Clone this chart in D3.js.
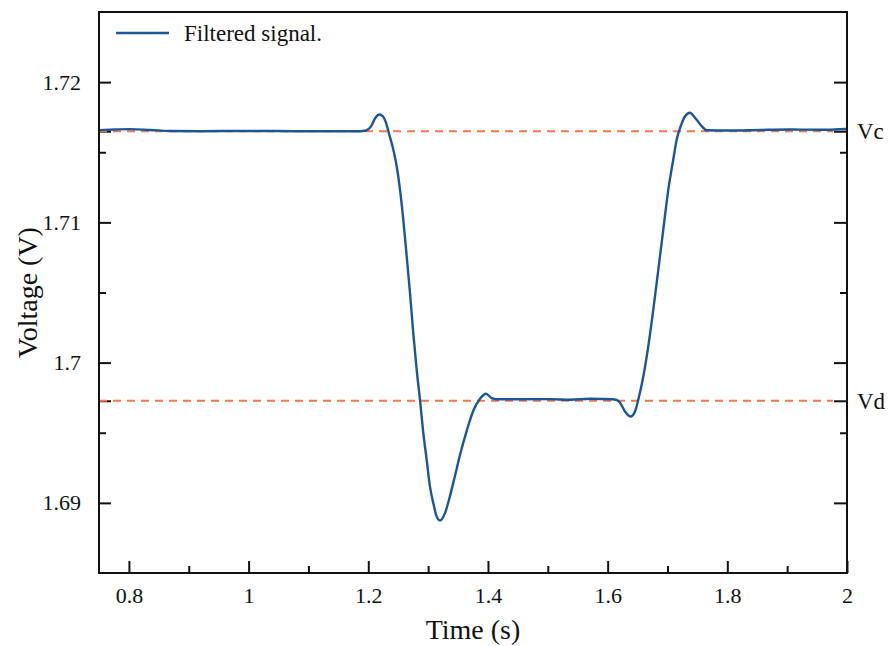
<!DOCTYPE html>
<html>
<head>
<meta charset="utf-8">
<script src="https://cdn.jsdelivr.net/npm/d3@7"></script>
<style>
  body { margin: 0; background: #fff; }
  text { font-family: "Liberation Serif", "Times New Roman", serif; fill: #111; }
</style>
</head>
<body>
<script>
// filtered signal
var timeValues = [0.75, 0.7767, 0.8018, 0.8352, 0.8687, 0.9188, 1.0023, 1.0859, 1.1862, 1.1962,
  1.2046, 1.2113, 1.2184, 1.2246, 1.2296, 1.2335, 1.2418, 1.2475, 1.2530, 1.2585,
  1.2642, 1.2697, 1.2752, 1.2809, 1.2864, 1.2920, 1.2976, 1.3031, 1.3087, 1.3143,
  1.3199, 1.3282, 1.3366, 1.3449, 1.3533, 1.3645, 1.3755, 1.3867, 1.3967, 1.4062,
  1.4151, 1.4535, 1.5037, 1.5371, 1.5705, 1.6073, 1.6157, 1.6207, 1.6290, 1.6385,
  1.6457, 1.6512, 1.6596, 1.6679, 1.6763, 1.6847, 1.6930, 1.7014, 1.7097, 1.7154,
  1.7221, 1.7293, 1.7376, 1.7460, 1.7572, 1.7655, 1.8044, 1.8546, 1.9047, 1.9548, 2.0];
var voltageValues = [1.71658, 1.71662, 1.71665, 1.71659, 1.71652, 1.71650, 1.71652, 1.71650, 1.71650, 1.71655,
  1.71684, 1.71741, 1.71769, 1.71755, 1.71712, 1.71650, 1.71520, 1.71400, 1.71234, 1.71020,
  1.70758, 1.70497, 1.70211, 1.69949, 1.69735, 1.69498, 1.69307, 1.69116, 1.68998, 1.68902,
  1.68874, 1.68927, 1.69050, 1.69193, 1.69343, 1.69514, 1.69657, 1.69742, 1.69778, 1.69747,
  1.69739, 1.69739, 1.69740, 1.69735, 1.69742, 1.69739, 1.69732, 1.69714, 1.69652, 1.69616,
  1.69652, 1.69735, 1.69901, 1.70116, 1.70378, 1.70663, 1.70949, 1.71234, 1.71448, 1.71591,
  1.71686, 1.71757, 1.71782, 1.71746, 1.71686, 1.71657, 1.71655, 1.71659, 1.71662, 1.71660, 1.71666];

// reference levels
var refNames = ["Vc", "Vd"];
var refValues = [1.71650, 1.69728];

// ticks
var xMajor = [0.8, 1, 1.2, 1.4, 1.6, 1.8, 2];
var xMinor = [0.9, 1.1, 1.3, 1.5, 1.7, 1.9];
var yMajor = [1.69, 1.70, 1.71, 1.72];
var yMinor = [1.695, 1.705, 1.715];
var yLabels = ["1.69", "1.7", "1.71", "1.72"];

var svgWidth = 889;
var svgHeight = 646;
var margin = { top: 12, right: 42, bottom: 73, left: 99 };
var width = svgWidth - margin.left - margin.right;
var height = svgHeight - margin.top - margin.bottom;

var svg = d3.select("body")
  .append("svg")
  .attr("width", svgWidth)
  .attr("height", svgHeight);

var chartGroup = svg.append("g")
  .attr("transform", `translate(${margin.left}, ${margin.top})`);

var xScale = d3.scaleLinear().domain([0.75, 2]).range([0, width]);
var yScale = d3.scaleLinear().domain([1.685, 1.725]).range([height, 0]);

// bottom axis, ticks point inward
chartGroup.append("g")
  .attr("transform", `translate(0, ${height})`)
  .call(d3.axisBottom(xScale).tickValues(xMajor).tickSize(-12).tickPadding(14)
    .tickFormat(d3.format("")));
chartGroup.append("g")
  .attr("transform", `translate(0, ${height})`)
  .call(d3.axisBottom(xScale).tickValues(xMinor).tickSize(-7).tickFormat(""));

// left axis
chartGroup.append("g")
  .call(d3.axisLeft(yScale).tickValues(yMajor).tickSize(-12).tickPadding(18)
    .tickFormat((d, i) => yLabels[i]));
chartGroup.append("g")
  .call(d3.axisLeft(yScale).tickValues(yMinor).tickSize(-7).tickFormat(""));
chartGroup.append("g")
  .call(d3.axisLeft(yScale).tickValues(refValues).tickSize(-12).tickFormat(""));

// right axis with Vc / Vd labels
chartGroup.append("g")
  .attr("transform", `translate(${width}, 0)`)
  .call(d3.axisRight(yScale).tickValues(yMajor).tickSize(-13).tickFormat(""));
chartGroup.append("g")
  .attr("transform", `translate(${width}, 0)`)
  .call(d3.axisRight(yScale).tickValues(yMinor).tickSize(-7).tickFormat(""));
chartGroup.append("g")
  .attr("class", "ref-axis")
  .attr("transform", `translate(${width}, 0)`)
  .call(d3.axisRight(yScale).tickValues(refValues).tickSize(-13).tickPadding(10)
    .tickFormat((d, i) => refNames[i]));

chartGroup.selectAll(".domain").remove();
chartGroup.selectAll(".tick line")
  .attr("stroke", "#111")
  .attr("stroke-width", 2);
chartGroup.selectAll(".tick text")
  .attr("font-family", "Liberation Serif, serif")
  .attr("font-size", 22)
  .attr("fill", "#111");
chartGroup.selectAll(".ref-axis .tick text").attr("font-size", 23);

// dashed reference lines
chartGroup.selectAll(".ref-line")
  .data(refValues)
  .enter()
  .append("line")
  .attr("class", "ref-line")
  .attr("x1", 0)
  .attr("x2", width - 14)
  .attr("y1", d => yScale(d))
  .attr("y2", d => yScale(d))
  .attr("stroke", "#f9764a")
  .attr("stroke-width", 2)
  .attr("stroke-dasharray", "8,6");

// signal
var signal = timeValues.map((t, i) => ({ t: t, v: voltageValues[i] }));
var line = d3.line()
  .x(d => xScale(d.t))
  .y(d => yScale(d.v))
  .curve(d3.curveMonotoneX);

chartGroup.append("path")
  .datum(signal)
  .attr("fill", "none")
  .attr("stroke", "#1b5797")
  .attr("stroke-width", 2.4)
  .attr("stroke-linejoin", "round")
  .attr("d", line);

// frame
chartGroup.append("rect")
  .attr("width", width)
  .attr("height", height)
  .attr("fill", "none")
  .attr("stroke", "#111")
  .attr("stroke-width", 2);

// legend
chartGroup.append("line")
  .attr("x1", 17).attr("x2", 70)
  .attr("y1", 21).attr("y2", 21)
  .attr("stroke", "#1b5797")
  .attr("stroke-width", 2.4);
chartGroup.append("text")
  .attr("x", 85)
  .attr("y", 29)
  .style("font-size", "23px")
  .text("Filtered signal.");

// axis titles
svg.append("text")
  .attr("x", margin.left + width / 2)
  .attr("y", 639)
  .attr("text-anchor", "middle")
  .style("font-size", "28px")
  .text("Time (s)");
svg.append("text")
  .attr("transform", "translate(37," + (margin.top + height / 2) + ") rotate(-90)")
  .attr("text-anchor", "middle")
  .style("font-size", "28px")
  .text("Voltage (V)");
</script>
</body>
</html>
